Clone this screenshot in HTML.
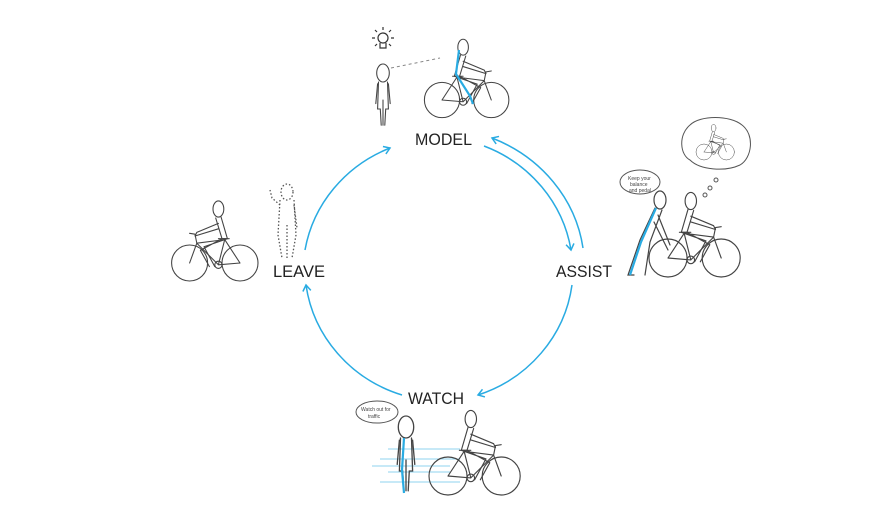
<!DOCTYPE html>
<html><head><meta charset="utf-8"><style>
html,body{margin:0;padding:0;background:#fff;}
svg{display:block;}
.lbl{font-family:"Liberation Sans",sans-serif;font-size:17px;fill:#222;}
.sm{font-family:"Liberation Sans",sans-serif;font-size:5px;fill:#444;}
</style></head><body>
<svg width="893" height="516" viewBox="0 0 893 516" xmlns="http://www.w3.org/2000/svg">
<defs>
<marker id="ah" markerWidth="10" markerHeight="10" refX="7" refY="5" orient="auto" markerUnits="userSpaceOnUse">
<path d="M1,1 L7,5 L1,9" fill="none" stroke="#29abe2" stroke-width="1.5"/>
</marker>
<g id="bike" fill="none" stroke="#444" stroke-width="1.2" stroke-linecap="round" stroke-linejoin="round">
<circle cx="0" cy="0" r="20"/>
<circle cx="56" cy="0" r="20"/>
<path d="M0,0 L24,2 L17,-26 L0,0 M17,-26 L48,-22 L24,2 M48,-22 L56,0 M48,-22 L50,-32 L56,-33"/>
<circle cx="24" cy="2" r="4"/>
<path d="M12,-27 L24,-27"/>
<ellipse cx="24" cy="-60" rx="6" ry="9"/>
<path d="M21,-51 L14,-27 L20,-27 L27,-50 M24,-44 L48,-34 L50,-30 L24,-38 M14,-27 L40,-18 L28,4 M20,-27 L44,-14 L34,4"/>
</g>
<g id="man" fill="none" stroke="#444" stroke-width="1.2" stroke-linecap="round">
<ellipse cx="0" cy="0" rx="7" ry="10"/>
<path d="M-5,10 L-6,40 L-3,40 L-2,58 M5,10 L6,40 L3,40 L2,58 M0,30 L0,58"/>
<path d="M-6,12 L-8,34 M6,12 L8,34"/>
</g>
</defs>

<g fill="none" stroke="#29abe2" stroke-width="1.5">
<path d="M305,250 A140,135 0 0 1 390,148" marker-end="url(#ah)"/>
<path d="M484,146 A140,135 0 0 1 571,250" marker-end="url(#ah)"/>
<path d="M583,248 A150,140 0 0 0 492,138" marker-end="url(#ah)"/>
<path d="M572,285 A140,135 0 0 1 478,395" marker-end="url(#ah)"/>
<path d="M402,395 A140,135 0 0 1 306,285" marker-end="url(#ah)"/>
</g>

<text class="lbl" x="415" y="145" textLength="57" lengthAdjust="spacingAndGlyphs">MODEL</text>
<text class="lbl" x="273" y="277" textLength="52" lengthAdjust="spacingAndGlyphs">LEAVE</text>
<text class="lbl" x="556" y="277" textLength="56" lengthAdjust="spacingAndGlyphs">ASSIST</text>
<text class="lbl" x="408" y="404" textLength="56" lengthAdjust="spacingAndGlyphs">WATCH</text>

<g transform="translate(442,100) scale(0.88)"><use href="#bike"/></g>
<path d="M459,50 L456,74 L470,96 L473,104" fill="none" stroke="#29abe2" stroke-width="2.2"/>
<use href="#man" transform="translate(383,73) scale(0.9)"/>
<path d="M391,68 L440,58" stroke="#888" stroke-width="1" stroke-dasharray="3,3"/>
<g fill="none" stroke="#333" stroke-width="1.2">
<circle cx="383" cy="38" r="5"/><path d="M380,43 L380,48 L386,48 L386,43"/>
<path d="M372,38 L375,38 M391,38 L394,38 M383,27 L383,30 M375,30 L377,32 M391,30 L389,32 M375,46 L377,44 M391,46 L389,44"/>
</g>

<g transform="translate(240,263) scale(-0.9,0.9)"><use href="#bike"/></g>
<g fill="none" stroke="#555" stroke-width="1.3" stroke-dasharray="1.5,2">
<ellipse cx="287" cy="192" rx="6" ry="8"/>
<path d="M280,200 L278,235 L282,258 M294,200 L296,235 L292,258 M287,225 L287,258 M280,205 L272,198 L270,190 M294,205 L297,228"/>
</g>

<g transform="translate(668,258) scale(0.95)"><use href="#bike"/></g>
<g fill="none" stroke="#444" stroke-width="1.2" stroke-linecap="round">
<ellipse cx="660" cy="200" rx="6" ry="9"/>
<path d="M655,208 L640,240 L628,275 L634,275 M662,210 L650,242 L645,275 M658,215 L670,245 M654,222 L668,250"/>
</g>
<path d="M656,208 L641,242 L630,275" fill="none" stroke="#29abe2" stroke-width="2.2"/>
<ellipse cx="640" cy="182" rx="20" ry="12" fill="#fff" stroke="#555" stroke-width="1"/>
<text class="sm" x="628" y="180">Keep your</text>
<text class="sm" x="630" y="186">balance</text>
<text class="sm" x="629" y="192">and pedal</text>
<path d="M690,160 C680,155 678,135 690,125 C700,115 730,115 742,125 C755,135 752,158 740,165 C725,172 700,170 690,160 Z" fill="#fff" stroke="#555" stroke-width="1"/>
<g transform="translate(704,152) scale(0.4)"><use href="#bike"/></g>
<circle cx="716" cy="180" r="2" fill="none" stroke="#555"/>
<circle cx="710" cy="188" r="2" fill="none" stroke="#555"/>
<circle cx="705" cy="195" r="2" fill="none" stroke="#555"/>

<g stroke="#8fd3ef" stroke-width="1">
<path d="M388,449 L460,449 M380,459 L460,459 M372,466 L450,466 M388,472 L450,472 M380,482 L460,482"/>
</g>
<g transform="translate(448,476) scale(0.95)"><use href="#bike"/></g>
<use href="#man" transform="translate(406,427) scale(1.1)"/>
<path d="M404,438 L402,470 L404,493" fill="none" stroke="#29abe2" stroke-width="2.2"/>
<ellipse cx="377" cy="412" rx="21" ry="11" fill="#fff" stroke="#555" stroke-width="1"/>
<text class="sm" x="361" y="411">Watch out for</text>
<text class="sm" x="368" y="418">traffic</text>
</svg>
</body></html>
